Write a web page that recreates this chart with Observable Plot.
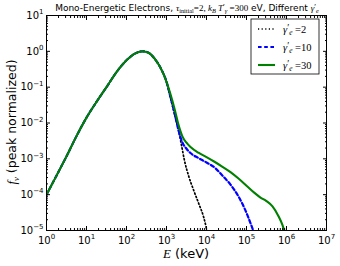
<!DOCTYPE html>
<html><head><meta charset="utf-8">
<script src="https://cdn.jsdelivr.net/npm/d3@7"></script>
<script src="https://cdn.jsdelivr.net/npm/@observablehq/plot@0.6"></script>
<style>body{margin:0;background:#fff} #chart{width:340px;height:266px}</style>
</head><body><div id="chart"></div>
<script>
// ---- data ----
// shared rise and peak (all three curves coincide)
const E_shared = [1, 1.78, 3.16, 5.62, 10, 17.8, 31.6, 56.2, 100, 158, 251, 355, 501, 708, 1000];
const f_shared = [1e-4, 3.4e-4, 1.17e-3, 4.3e-3, 0.0141, 0.039, 0.1, 0.263, 0.562, 0.851, 1.0, 0.912, 0.631, 0.347, 0.141];
// gamma'_e = 2 (black dotted)
const E_g2 = [1259, 1585, 1995, 2399, 2818, 3631, 4786, 6457, 8511, 10000, 10700];
const f_g2 = [0.0501, 0.0178, 6.3e-3, 2.24e-3, 8.9e-4, 3.16e-4, 1.32e-4, 5.5e-5, 2.34e-5, 1.12e-5, 7.9e-6];
// gamma'_e = 10 (blue dashed)
const E_g10 = [1259, 1585, 1995, 2512, 3162, 3981, 6310, 1e4, 1.585e4, 2.512e4, 3.981e4, 6.31e4, 8.913e4, 1.122e5, 1.585e5];
const f_g10 = [0.0525, 0.0191, 6.3e-3, 2.82e-3, 1.91e-3, 1.45e-3, 1.05e-3, 7.9e-4, 5.75e-4, 3.39e-4, 1.91e-4, 8.9e-5, 4.17e-5, 2.24e-5, 7.9e-6];
// gamma'_e = 30 (green solid)
const E_g30 = [1259, 1585, 1995, 2512, 3162, 3981, 6310, 1e4, 1.585e4, 2.512e4, 3.981e4, 6.31e4, 1e5, 1.585e5, 2.239e5, 3.162e5, 4.467e5, 6.31e5, 7.943e5, 9.333e5];
const f_g30 = [0.063, 0.0251, 8.9e-3, 4.17e-3, 2.82e-3, 2.14e-3, 1.48e-3, 1.12e-3, 8.3e-4, 6.0e-4, 4.27e-4, 2.82e-4, 1.78e-4, 1.12e-4, 8.3e-5, 6.6e-5, 4.7e-5, 2.5e-5, 1.41e-5, 7.9e-6];

const legendLabels = ["2", "10", "30"];
const xMajor = [1, 1e1, 1e2, 1e3, 1e4, 1e5, 1e6, 1e7];
const yMajor = [1e-5, 1e-4, 1e-3, 1e-2, 1e-1, 1, 10];

// ---- build tables ----
const rows = (E, f) => E.map((e, i) => ({E: e, f: f[i]}));
const d2 = rows([...E_shared, ...E_g2], [...f_shared, ...f_g2]);
const d10 = rows([...E_shared, ...E_g10], [...f_shared, ...f_g10]);
const d30 = rows([...E_shared, ...E_g30], [...f_shared, ...f_g30]);

const minors = (lo, hi) => { const out = []; for (let k = lo; k < hi; k++) for (let m = 2; m <= 9; m++) out.push(m * Math.pow(10, k)); return out; };
const xMinor = minors(0, 7);
const yMinor = minors(-5, 1);
const expFmt = d => "E" + Math.round(Math.log10(d));
const blank = () => "";

const styles = [
  {stroke: "#000000", strokeWidth: 1.7, strokeDasharray: "1.2,2.4"},
  {stroke: "#0000ff", strokeWidth: 2.2, strokeDasharray: "3.6,2.6"},
  {stroke: "#008000", strokeWidth: 2.1}
];

const chart = Plot.plot({
  width: 340, height: 266,
  marginLeft: 46, marginRight: 14, marginTop: 15, marginBottom: 36,
  style: {fontFamily: "DejaVu Sans", fontSize: "10px", background: "white", overflow: "visible"},
  x: {type: "log", domain: [1, 1e7]},
  y: {type: "log", domain: [1e-5, 10]},
  marks: [
    Plot.line(d2, {x: "E", y: "f", curve: "monotone-x", clip: true, ...styles[0]}),
    Plot.line(d10, {x: "E", y: "f", curve: "monotone-x", clip: true, ...styles[1]}),
    Plot.line(d30, {x: "E", y: "f", curve: "monotone-x", clip: true, ...styles[2]}),
    Plot.axisX({ticks: xMajor, tickFormat: expFmt, tickSize: 0, tickPadding: 6, label: null, fontSize: 10}),
    Plot.axisX({ticks: xMajor, tickFormat: blank, tickSize: -4, label: null}),
    Plot.axisX({ticks: xMinor, tickFormat: blank, tickSize: -2, label: null}),
    Plot.axisX({anchor: "top", ticks: xMajor, tickFormat: blank, tickSize: -4, label: null}),
    Plot.axisX({anchor: "top", ticks: xMinor, tickFormat: blank, tickSize: -2, label: null}),
    Plot.axisY({ticks: yMajor, tickFormat: expFmt, tickSize: 0, tickPadding: 3, label: null, fontSize: 10}),
    Plot.axisY({ticks: yMajor, tickFormat: blank, tickSize: -4, label: null}),
    Plot.axisY({ticks: yMinor, tickFormat: blank, tickSize: -2, label: null}),
    Plot.axisY({anchor: "right", ticks: yMajor, tickFormat: blank, tickSize: -4, label: null}),
    Plot.axisY({anchor: "right", ticks: yMinor, tickFormat: blank, tickSize: -2, label: null}),
    Plot.frame({stroke: "#000", strokeWidth: 1})
  ]
});
document.getElementById("chart").appendChild(chart);

const svg = d3.select(chart);
// tick labels: 10 with superscript exponent
svg.selectAll("text").each(function() {
  const s = this.textContent;
  if (/^E-?\d+$/.test(s)) {
    const e = s.slice(1).replace("-", "\u2212");
    const t = d3.select(this);
    t.text("");
    t.append("tspan").text("10");
    t.append("tspan").attr("dy", -4.5).attr("font-size", 7).text(e);
  }
});

const SERIF = "Liberation Serif, DejaVu Serif, serif";
function rich(x, y, segs, base, anchor, transform) {
  const t = svg.append("text").attr("x", x).attr("y", y).attr("font-size", base)
    .attr("text-anchor", anchor).attr("fill", "#000").attr("font-family", "DejaVu Sans");
  if (transform) t.attr("transform", transform);
  let cur = 0;
  for (const s of segs) {
    const off = s.sub ? 0.25 : s.sup ? -0.4 : s.prime ? -0.1 : 0;
    const ts = t.append("tspan").text(s.t);
    const dy = (off - cur) * base;
    if (dy) ts.attr("dy", dy);
    cur = off;
    if (s.sub || s.sup) ts.attr("font-size", base * 0.7);
    if (s.prime) ts.attr("font-size", base * 0.9);
    if (s.it) ts.attr("font-style", "italic");
    if (s.serif) ts.attr("font-family", SERIF);
  }
  return t;
}

// title
rich(187, 11, [
  {t: "Mono-Energetic Electrons, "},
  {t: "τ", it: 1, serif: 1}, {t: "initial", sub: 1, serif: 1},
  {t: "=2, ", serif: 1},
  {t: "k", it: 1, serif: 1}, {t: "B", it: 1, sub: 1, serif: 1},
  {t: " T", it: 1, serif: 1}, {t: "′", prime: 1, serif: 1}, {t: "γ", sub: 1, it: 1, serif: 1},
  {t: " =300", serif: 1}, {t: " eV, Different "},
  {t: "γ", it: 1, serif: 1}, {t: "′", prime: 1, serif: 1}, {t: "e", sub: 1, it: 1, serif: 1}
], 9, "middle");

// axis labels
rich(186, 258, [{t: "E", it: 1, serif: 1}, {t: " (keV)"}], 13, "middle");
rich(0, 0, [{t: "f", it: 1, serif: 1}, {t: "ν", sub: 1, it: 1, serif: 1}, {t: " (peak normalized)"}], 12.5, "middle", "translate(16,122) rotate(-90)");

// legend
svg.append("rect").attr("x", 251).attr("y", 19).attr("width", 68).attr("height", 55)
  .attr("fill", "white").attr("stroke", "#000").attr("stroke-width", 0.8);
legendLabels.forEach((lab, i) => {
  const yy = 29 + i * 18;
  const st = styles[i];
  svg.append("line").attr("x1", 258).attr("x2", 275).attr("y1", yy).attr("y2", yy)
    .attr("stroke", st.stroke).attr("stroke-width", st.strokeWidth)
    .attr("stroke-dasharray", st.strokeDasharray || null);
  rich(283, yy + 3.5, [
    {t: "γ", it: 1, serif: 1}, {t: "′", prime: 1, serif: 1}, {t: "e", sub: 1, it: 1, serif: 1},
    {t: " =" + lab, serif: 1}
  ], 10.5, "start");
});
</script>
</body></html>
